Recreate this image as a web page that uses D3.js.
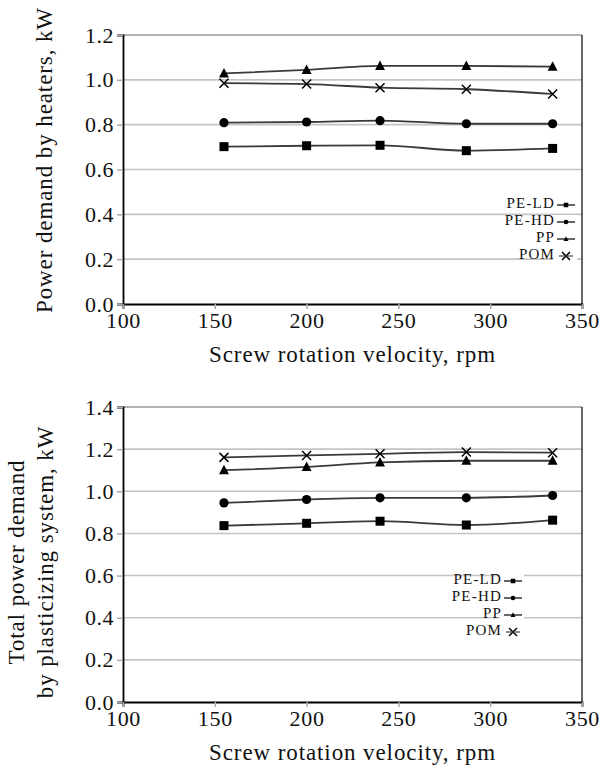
<!DOCTYPE html>
<html><head><meta charset="utf-8">
<script src="https://cdn.jsdelivr.net/npm/d3@7"></script>
<style>body{margin:0;background:#fff}svg{display:block}</style>
</head><body><svg id="c" width="601" height="774"></svg>
<script>
const rpm = [155, 200, 240, 287, 334];
const seriesNames = ["PE-LD", "PE-HD", "PP", "POM"];
const heatersPELD = [0.702, 0.706, 0.708, 0.684, 0.694];
const heatersPEHD = [0.809, 0.812, 0.818, 0.804, 0.804];
const heatersPP = [1.029, 1.044, 1.062, 1.062, 1.059];
const heatersPOM = [0.985, 0.981, 0.965, 0.958, 0.937];
const totalPELD = [0.837, 0.848, 0.858, 0.840, 0.863];
const totalPEHD = [0.945, 0.961, 0.969, 0.969, 0.980];
const totalPP = [1.100, 1.116, 1.137, 1.145, 1.145];
const totalPOM = [1.161, 1.170, 1.178, 1.186, 1.183];
const xTicks = [100, 150, 200, 250, 300, 350];
const yTicksTop = [0, 0.2, 0.4, 0.6, 0.8, 1.0, 1.2];
const yTicksBottom = [0, 0.2, 0.4, 0.6, 0.8, 1.0, 1.2, 1.4];
const markers = ["square", "circle", "triangle", "cross"];
const FONT = "'Liberation Serif', 'Times New Roman', Times, serif";

const svg = d3.select("#c");

function panel(cfg) {
  const g = svg.append("g");
  const x = d3.scaleLinear().domain([100, 350]).range([cfg.left, cfg.right]);
  const y = d3.scaleLinear().domain([0, cfg.ymax]).range([cfg.bottom, cfg.top]);
  g.selectAll(".grid").data(cfg.yTicks.filter(v => v > 0 && v < cfg.ymax)).join("line")
    .attr("x1", cfg.left).attr("x2", cfg.right)
    .attr("y1", d => y(d)).attr("y2", d => y(d))
    .attr("stroke", "#c4c4c4").attr("stroke-width", 1.6);
  g.append("line").attr("x1", cfg.left).attr("x2", cfg.right).attr("y1", cfg.top).attr("y2", cfg.top)
    .attr("stroke", "#999").attr("stroke-width", 1.5);
  g.append("line").attr("x1", cfg.right).attr("x2", cfg.right).attr("y1", cfg.top).attr("y2", cfg.bottom)
    .attr("stroke", "#333").attr("stroke-width", 1.5);
  const ya = g.append("g").attr("transform", `translate(${cfg.left},0)`)
    .call(d3.axisLeft(y).tickValues(cfg.yTicks).tickFormat(d3.format(".1f")).tickSize(6).tickPadding(3));
  ya.attr("font-family", FONT).attr("font-size", 22);
  ya.select(".domain").attr("stroke", "#000").attr("stroke-width", 1.8);
  ya.selectAll(".tick line").attr("stroke", "#aaa").attr("stroke-width", 1.5);
  ya.selectAll("text").attr("fill", "#111").attr("letter-spacing", 0.5);
  const xa = g.append("g").attr("transform", `translate(0,${cfg.bottom})`)
    .call(d3.axisBottom(x).tickValues(xTicks).tickSize(5).tickPadding(3));
  xa.attr("font-family", FONT).attr("font-size", 22);
  xa.select(".domain").attr("stroke", "#000").attr("stroke-width", 1.8);
  xa.selectAll(".tick line").attr("stroke", "#aaa").attr("stroke-width", 1.5);
  xa.selectAll("text").attr("fill", "#111").attr("letter-spacing", 0.7);
  g.append("text").attr("x", (cfg.left + cfg.right) / 2).attr("y", cfg.bottom + 53)
    .attr("text-anchor", "middle").attr("dominant-baseline", "middle")
    .attr("font-family", FONT).attr("font-size", 23).attr("letter-spacing", 0.9).attr("fill", "#111")
    .text("Screw rotation velocity, rpm");
  cfg.ylabel.forEach((t, i) => {
    g.append("text").attr("transform", `translate(${cfg.ylabelX[i]},${cfg.ylabelY}) rotate(-90)`)
      .attr("text-anchor", "middle").attr("dominant-baseline", "middle")
      .attr("font-family", FONT).attr("font-size", 23).attr("letter-spacing", 0.9).attr("fill", "#111").text(t);
  });
  const line = d3.line().x((d, i) => x(rpm[i])).y(d => y(d)).curve(d3.curveMonotoneX);
  cfg.series.forEach(vals => {
    g.append("path").attr("d", line(vals)).attr("fill", "none").attr("stroke", "#3a3a3a").attr("stroke-width", 1.8);
  });
  cfg.series.forEach((vals, si) => {
    vals.forEach((v, i) => drawMarker(g, markers[si], x(rpm[i]), y(v), 1));
  });
  seriesNames.forEach((n, i) => {
    const ly = cfg.legY + i * cfg.legStep;
    g.append("rect").attr("x", cfg.legX - 2).attr("y", ly - 7).attr("width", 24).attr("height", 14).attr("fill", "#fff");
    g.append("text").attr("x", cfg.legX).attr("y", ly).attr("text-anchor", "end")
      .attr("dominant-baseline", "middle").attr("font-family", FONT).attr("font-size", 15)
      .attr("letter-spacing", 1.2).attr("fill", "#111").text(n);
    if (markers[i] !== "cross") {
      g.append("line").attr("x1", cfg.legX + 2).attr("x2", cfg.legX + 20).attr("y1", ly).attr("y2", ly)
        .attr("stroke", "#333").attr("stroke-width", 1.5);
    }
    drawMarker(g, markers[i], cfg.legX + 11, ly, 0.5);
  });
}

function drawMarker(g, type, cx, cy, s) {
  if (type === "square") {
    const w = 9 * s;
    g.append("rect").attr("x", cx - w / 2).attr("y", cy - w / 2).attr("width", w).attr("height", w).attr("fill", "#000");
  } else if (type === "circle") {
    g.append("circle").attr("cx", cx).attr("cy", cy).attr("r", 4.6 * s).attr("fill", "#000");
  } else if (type === "triangle") {
    const h = 9 * s;
    g.append("path").attr("d", `M${cx},${cy - h * 0.6}L${cx + h * 0.55},${cy + h * 0.45}L${cx - h * 0.55},${cy + h * 0.45}Z`).attr("fill", "#000");
  } else {
    const r = s === 1 ? 4.5 : 4;
    g.append("path").attr("d", `M${cx - r},${cy - r}L${cx + r},${cy + r}M${cx - r},${cy + r}L${cx + r},${cy - r}`)
      .attr("stroke", "#000").attr("stroke-width", 1.5).attr("fill", "none");
    if (s !== 1) {
      g.append("line").attr("x1", cx - 7).attr("x2", cx + 7).attr("y1", cy).attr("y2", cy).attr("stroke", "#333").attr("stroke-width", 1.1);
    }
  }
}

panel({
  left: 123, right: 582, top: 35, bottom: 304, ymax: 1.2, yTicks: yTicksTop,
  series: [heatersPELD, heatersPEHD, heatersPP, heatersPOM],
  ylabel: ["Power demand by heaters, kW"], ylabelX: [47], ylabelY: 160,
  legX: 555, legY: 205, legStep: 17
});
panel({
  left: 123, right: 582, top: 407, bottom: 702, ymax: 1.4, yTicks: yTicksBottom,
  series: [totalPELD, totalPEHD, totalPP, totalPOM],
  ylabel: ["Total power demand", "by plasticizing system, kW"], ylabelX: [19, 48], ylabelY: 562,
  legX: 502, legY: 581, legStep: 17
});
</script></body></html>
